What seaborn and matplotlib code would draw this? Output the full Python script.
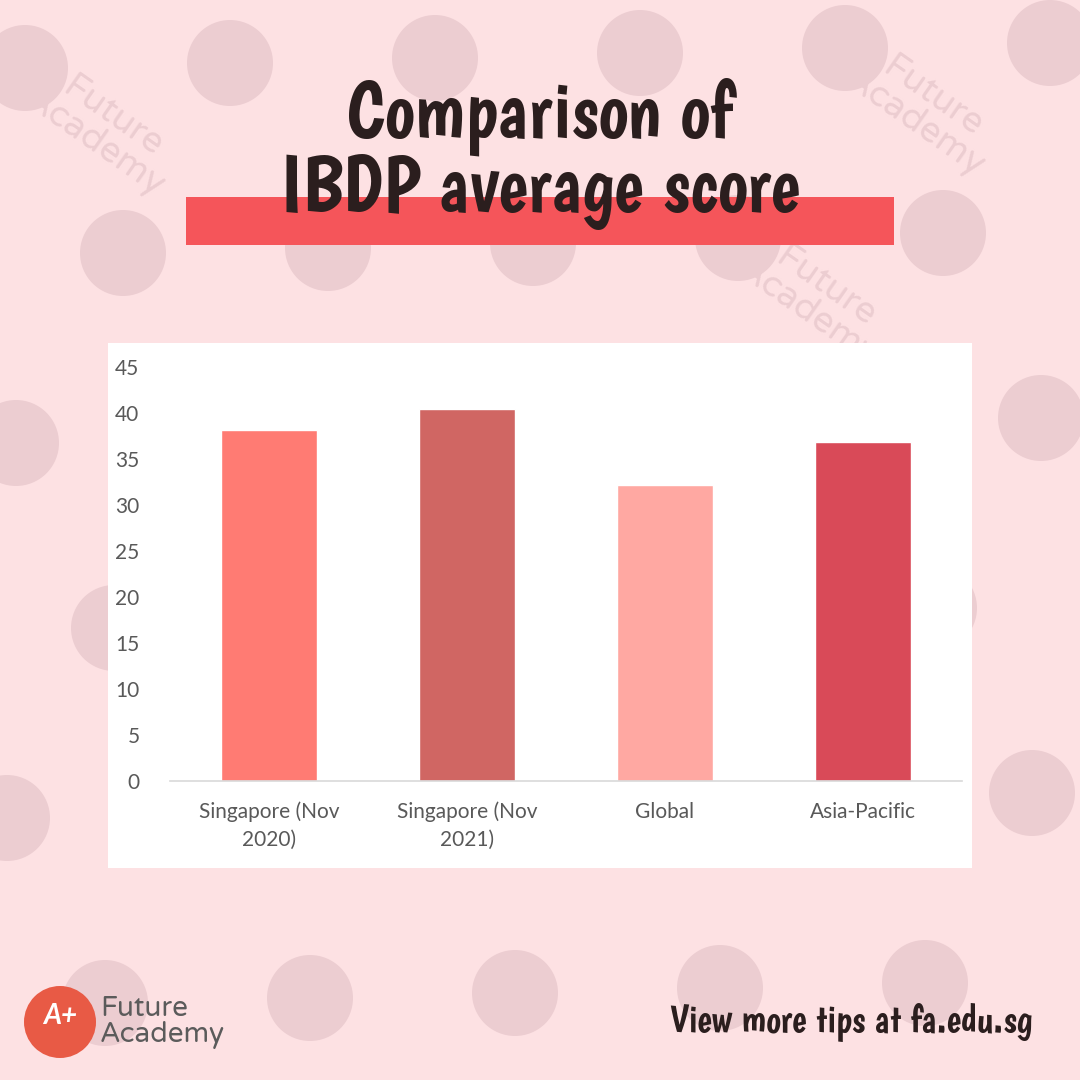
import numpy as np
import pandas as pd
import matplotlib
matplotlib.use("Agg")
import matplotlib.pyplot as plt
import matplotlib.patches as mpatches
import seaborn as sns

# chart data
categories = ["Singapore (Nov\n2020)", "Singapore (Nov\n2021)", "Global", "Asia-Pacific"]
scores = [38.2, 40.4, 32.2, 36.8]
bar_colors = ["#FF7B73", "#D06663", "#FFA8A2", "#D94A58"]
y_ticks = [0, 5, 10, 15, 20, 25, 30, 35, 40, 45]

title_text = "Comparison of\nIBDP average score"
footer_text = "View more tips at fa.edu.sg"
brand_text = "Future\nAcademy"

BG = "#FDE1E3"
MARK = "#ECCDD1"
INK = "#2B1E1E"

sns.set_theme(style="white")
plt.rcParams['font.family'] = ['Lato', 'DejaVu Sans']
hand_font = ['Boogaloo', 'Mouse Memoirs', 'DejaVu Sans']
round_font = ['Varela Round', 'Nunito', 'DejaVu Sans']

fig = plt.figure(figsize=(10.8, 10.8), dpi=100)
fig.patch.set_facecolor(BG)

# background layer in pixel coords
bg = fig.add_axes([0, 0, 1, 1])
bg.set_xlim(0, 1080)
bg.set_ylim(1080, 0)
bg.axis("off")

# faint watermark tiles (circle logo + brand name)
for row in range(-1, 7):
    for col in range(-2, 7):
        cx = 25 + col * 205 + row * 98
        cy = 68 + row * 185 - col * 5
        bg.add_patch(mpatches.Circle((cx, cy), 43, facecolor=MARK, edgecolor="none", zorder=0))
        tx, ty = cx + 78, cy + 62
        inside_fig = 75 < tx < 1005 and 55 < ty < 1025
        in_panel = 60 < tx < 1020 and 300 < ty < 910
        in_title = 230 < tx < 850 and ty < 300
        in_footer = ty > 960 and (tx < 260 or tx > 600)
        if inside_fig and not (in_panel or in_title or in_footer):
            bg.text(tx, ty, brand_text, rotation=-35, fontsize=26, color=MARK,
                    family=round_font, ha="center", va="center",
                    linespacing=0.85, zorder=0)

# title highlight bar and white chart panel
bg.add_patch(mpatches.Rectangle((186, 197), 708, 48, facecolor="#F5555A", edgecolor="none", zorder=1))
bg.add_patch(mpatches.Rectangle((108, 343), 864, 525, facecolor="white", edgecolor="none", zorder=1))

bg.text(540, 154, title_text, ha="center", va="center", fontsize=57,
        color=INK, family=hand_font, linespacing=0.95, zorder=2)

# footer: logo and link
bg.add_patch(mpatches.Circle((60, 1022), 36, facecolor="#E85A45", edgecolor="none", zorder=2))
bg.text(60, 1016, "A+", ha="center", va="center", fontsize=20, color="white",
        fontweight="bold", style="italic", zorder=3)
bg.text(100, 1022, brand_text, ha="left", va="center", fontsize=20,
        color="#5B5B5B", family=round_font,
        linespacing=0.95, zorder=2)
bg.text(1032, 1022, footer_text, ha="right", va="center", fontsize=28,
        color=INK, family=hand_font, zorder=2)

# chart axes
ax = fig.add_axes([170 / 1080, 1 - 781 / 1080, 792 / 1080, 414 / 1080])
ax.patch.set_alpha(0)
df = pd.DataFrame({"category": categories, "score": scores})
sns.barplot(data=df, x="category", y="score", hue="category", palette=bar_colors,
            width=0.485, legend=False, saturation=1, ax=ax)

ax.set_xlim(-0.5, 3.5)
ax.set_ylim(0, 45)
ax.set_yticks(y_ticks)
ax.set_xlabel("")
ax.set_ylabel("")
for side in ["top", "right", "left"]:
    ax.spines[side].set_visible(False)
ax.spines["bottom"].set_color("#D9D9D9")
ax.spines["bottom"].set_linewidth(1.2)
ax.tick_params(axis="y", length=0, labelsize=15, labelcolor="#595959", pad=22)
ax.tick_params(axis="x", length=0, labelsize=15, labelcolor="#595959", pad=15)
for lbl in ax.get_xticklabels():
    lbl.set_linespacing(1.45)

fig.savefig("out.png", dpi=100, facecolor=BG)
